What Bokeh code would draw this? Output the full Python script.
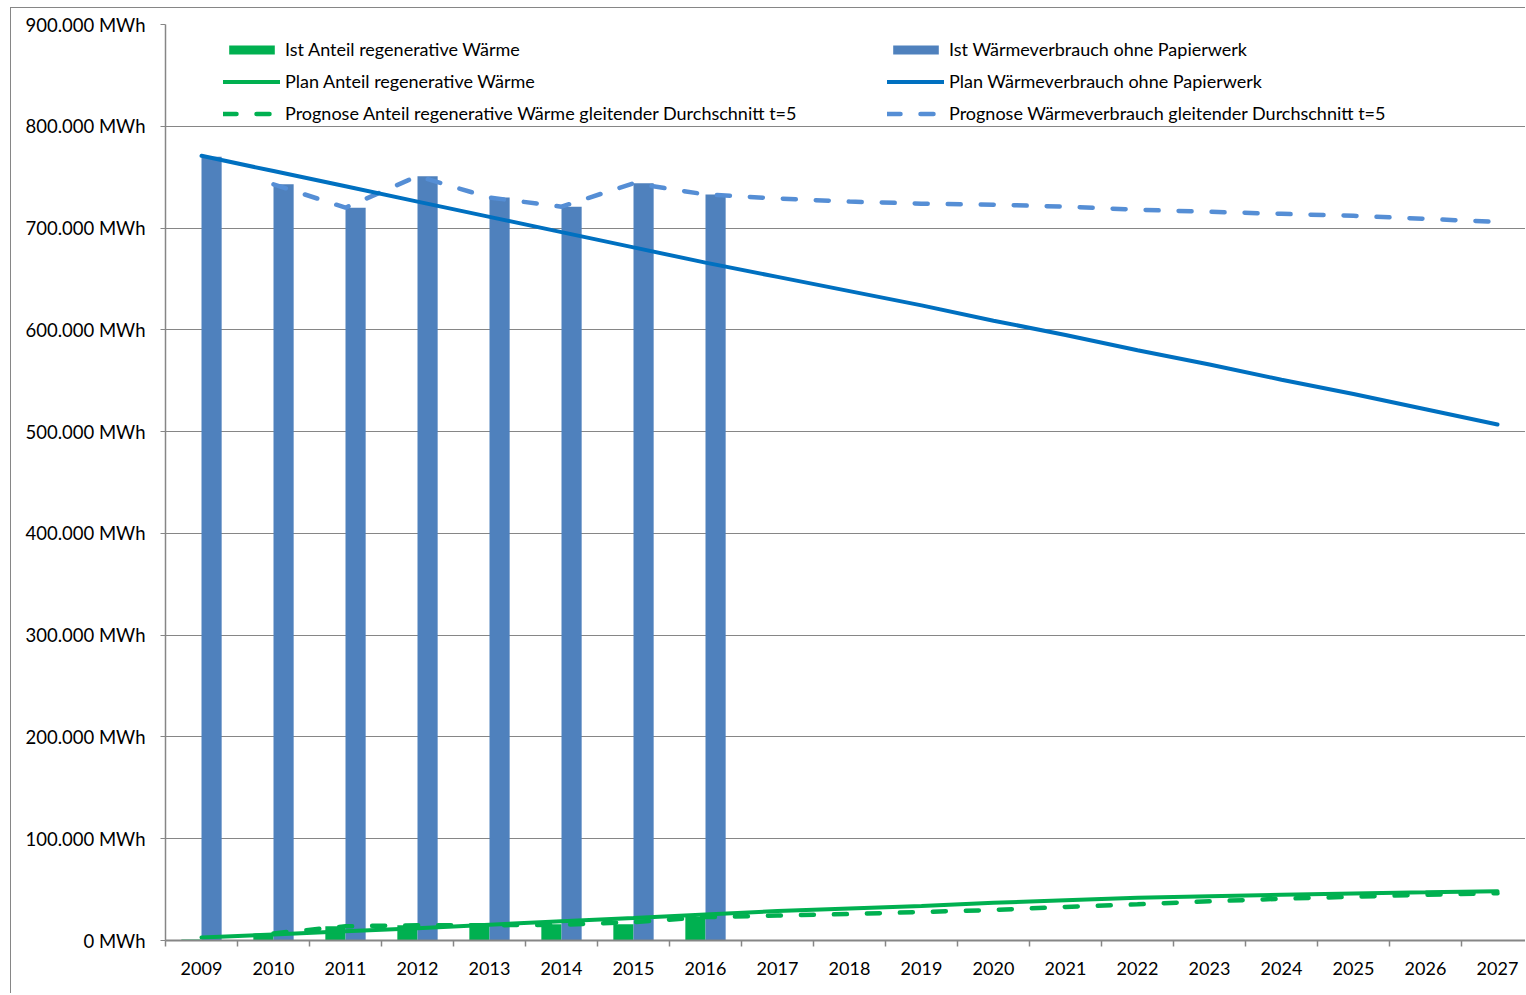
import numpy as np
from bokeh.plotting import figure
from bokeh.models import (ColumnDataSource, FixedTicker, Legend, LegendItem, Range1d)
from bokeh.transform import dodge
from bokeh.embed import file_html
from bokeh.resources import INLINE

years = [str(y) for y in range(2009, 2028)]
ist_years = years[:8]
prog_years = years[1:]

ist_regenerativ = [1000, 7000, 14000, 15000, 17000, 16000, 16000, 23000]
ist_waerme = [770000, 743000, 720000, 751000, 730000, 721000, 744000, 733000]
plan_regenerativ = [3000, 6000, 9000, 12000, 15500, 19000, 22000, 25500, 29000, 31500,
                    34000, 37000, 39500, 42000, 43500, 45000, 46200, 47300, 48500]
plan_waerme = [771000, 756000, 741000, 726000, 711000, 696000, 681000, 666000, 652000, 638000,
               624000, 609000, 595000, 580000, 566000, 551000, 537000, 522000, 507000]
prog_regenerativ = [7000, 14000, 15000, 15000, 15500, 18000, 23000, 24500, 26000, 28000,
                    30000, 33000, 35500, 38500, 41000, 43000, 45000, 46500]
prog_waerme = [743000, 720000, 751000, 730000, 721000, 744000, 733000, 729000, 726000, 724000,
               723000, 721000, 718000, 716000, 714000, 712000, 709000, 706000]

y_ticks = [0, 100000, 200000, 300000, 400000, 500000, 600000, 700000, 800000, 900000]
y_tick_labels = ["0 MWh", "100.000 MWh", "200.000 MWh", "300.000 MWh", "400.000 MWh",
                 "500.000 MWh", "600.000 MWh", "700.000 MWh", "800.000 MWh", "900.000 MWh"]

idx = {y: i for i, y in enumerate(years)}
src_ist = ColumnDataSource(dict(x=[idx[y] for y in ist_years], reg=ist_regenerativ, w=ist_waerme))
src_plan = ColumnDataSource(dict(x=[idx[y] for y in years], reg=plan_regenerativ, w=plan_waerme))
src_prog = ColumnDataSource(dict(x=[idx[y] for y in prog_years], reg=prog_regenerativ, w=prog_waerme))

FONT = "Lato"
GREEN = "#00B050"
BAR_BLUE = "#4F81BD"
PLAN_BLUE = "#0070C0"
PROG_BLUE = "#558ED5"

# figure placed at page (11, 8); frame left 165, top 24, bottom 940, right 1526
W, H = 1515, 986
p = figure(width=W, height=H, output_backend="svg", toolbar_location=None,
           x_range=Range1d(-0.5, -0.5 + (1526 - 165) / 72.0), y_range=Range1d(0, 900000),
           min_border_left=154, min_border_top=16, min_border_bottom=54, min_border_right=0)
p.outline_line_color = None
p.background_fill_color = "white"
p.border_fill_color = "white"

bw = 0.28
r_bar_g = p.vbar(x=dodge("x", -bw / 2, range=None), top="reg", width=bw, source=src_ist,
                 fill_color=GREEN, line_color=None)
r_bar_b = p.vbar(x=dodge("x", bw / 2, range=None), top="w", width=bw, source=src_ist,
                 fill_color=BAR_BLUE, line_color=None)

dash = "13 20"
r_prog_b = p.line("x", "w", source=src_prog, line_color=PROG_BLUE, line_width=4.5,
                  line_dash=dash, line_cap="round")
r_plan_b = p.line("x", "w", source=src_plan, line_color=PLAN_BLUE, line_width=4, line_cap="round")
r_prog_g = p.line("x", "reg", source=src_prog, line_color=GREEN, line_width=4.5,
                  line_dash=dash, line_cap="round")
r_plan_g = p.line("x", "reg", source=src_plan, line_color=GREEN, line_width=4, line_cap="round")

# axes
xa = p.xaxis[0]
xa.ticker = FixedTicker(ticks=list(range(len(years))),
                        minor_ticks=[i - 0.5 for i in range(len(years) + 1)])
xa.major_label_overrides = {i: y for i, y in enumerate(years)}
xa.major_tick_out = 0
xa.major_tick_in = 0
xa.minor_tick_out = 6
xa.minor_tick_in = 0
xa.minor_tick_line_color = "#868686"
xa.minor_tick_line_width = 1.5
xa.axis_line_color = "#868686"
xa.axis_line_width = 2
xa.major_label_standoff = 15
xa.major_label_text_font = FONT
xa.major_label_text_font_size = "18px"
xa.major_label_text_color = "black"

ya = p.yaxis[0]
ya.ticker = FixedTicker(ticks=y_ticks)
ya.major_label_overrides = {t: l for t, l in zip(y_ticks, y_tick_labels)}
ya.major_tick_out = 5
ya.major_tick_in = 0
ya.minor_tick_out = 0
ya.minor_tick_in = 0
ya.major_tick_line_color = "#868686"
ya.axis_line_color = "#868686"
ya.axis_line_width = 1.5
ya.major_label_standoff = 15
ya.major_label_text_font = FONT
ya.major_label_text_font_size = "18.5px"
ya.major_label_text_color = "black"

p.xgrid.grid_line_color = None
p.ygrid.grid_line_color = "#868686"
p.ygrid.grid_line_width = 1.2

def make_legend(items, loc):
    lg = Legend(items=items, location=loc, orientation="vertical",
                glyph_width=57, glyph_height=11, label_height=20, spacing=10,
                label_standoff=5, padding=0, margin=0,
                label_text_font=FONT, label_text_font_size="18px",
                label_text_color="black", background_fill_alpha=0,
                border_line_color=None)
    return lg

left_items = [LegendItem(label="Ist Anteil regenerative Wärme", renderers=[r_bar_g]),
              LegendItem(label="Plan Anteil regenerative Wärme", renderers=[r_plan_g]),
              LegendItem(label="Prognose Anteil regenerative Wärme gleitender Durchschnitt t=5",
                         renderers=[r_prog_g])]
right_items = [LegendItem(label="Ist Wärmeverbrauch ohne Papierwerk", renderers=[r_bar_b]),
               LegendItem(label="Plan Wärmeverbrauch ohne Papierwerk", renderers=[r_plan_b]),
               LegendItem(label="Prognose Wärmeverbrauch gleitender Durchschnitt t=5",
                          renderers=[r_prog_b])]
p.add_layout(make_legend(left_items, (58, 816)))
p.add_layout(make_legend(right_items, (722, 816)))

p.styles = {"margin-left": "10px", "margin-top": "7px",
            "border-left": "1px solid #868686", "border-top": "1px solid #868686"}

open("out.html", "w").write(file_html(p, INLINE))
